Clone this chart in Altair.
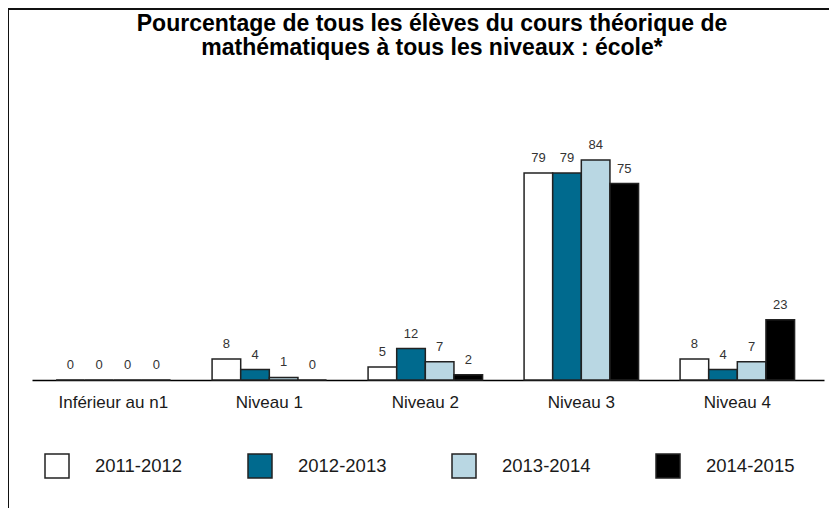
import altair as alt
import pandas as pd

categories = ["Inférieur au n1", "Niveau 1", "Niveau 2", "Niveau 3", "Niveau 4"]
years = ["2011-2012", "2012-2013", "2013-2014", "2014-2015"]
v_2011 = [0, 8, 5, 79, 8]
v_2012 = [0, 4, 12, 79, 4]
v_2013 = [0, 1, 7, 84, 7]
v_2014 = [0, 0, 2, 75, 23]
colors = ["#FFFFFF", "#006A8E", "#B9D7E3", "#000000"]

rows = []
for yr, vals in zip(years, [v_2011, v_2012, v_2013, v_2014]):
    for c, v in zip(categories, vals):
        rows.append({"cat": c, "year": yr, "value": v})
df = pd.DataFrame(rows)

FONT = "Liberation Sans"

x_enc = alt.X("cat:N", sort=categories, title=None,
              scale=alt.Scale(paddingInner=0.266, paddingOuter=0.1715, align=0.45),
              axis=alt.Axis(labelAngle=0, labelFontSize=17, labelFont=FONT, labelColor="#1a1a1a",
                            ticks=False, domainColor="#000000", domainWidth=1.5,
                            labelPadding=14, grid=False))
xo_enc = alt.XOffset("year:N", sort=years, scale=alt.Scale(paddingInner=0, paddingOuter=0))
y_enc = alt.Y("value:Q", scale=alt.Scale(domain=[0, 100]), axis=None)

base = alt.Chart(df)

bars = base.mark_bar(stroke="#222222", strokeWidth=1.5).encode(
    x=x_enc,
    xOffset=xo_enc,
    y=y_enc,
    fill=alt.Fill("year:N", sort=years,
                  scale=alt.Scale(domain=years, range=colors),
                  legend=alt.Legend(title=None, orient="none", legendX=12, legendY=335,
                                    direction="horizontal", columns=4,
                                    symbolType="square", symbolSize=576,
                                    symbolStrokeColor="#222222", symbolStrokeWidth=1.5,
                                    symbolOpacity=1,
                                    labelFontSize=18.5, labelFont=FONT, labelColor="#1a1a1a",
                                    labelOffset=25, columnPadding=62, padding=0)),
)

labels = base.mark_text(baseline="alphabetic", dy=-11, fontSize=13, font=FONT, color="#333333").encode(
    x=alt.X("cat:N", sort=categories),
    xOffset=alt.XOffset("year:N", sort=years),
    y=alt.Y("value:Q"),
    text=alt.Text("value:Q"),
)

frame = alt.Chart(pd.DataFrame({"a": [0]})).mark_rect(
    filled=False, stroke="#111111", strokeWidth=2
).encode(
    x=alt.value(-24), x2=alt.value(900), y=alt.value(-109), y2=alt.value(600)
)

chart = alt.layer(frame, bars, labels).properties(
    width=792,
    height=262,
    padding={"left": 24, "top": 110, "right": 5, "bottom": 128},
    autosize=alt.AutoSizeParams(type="none"),
    background="white",
    title=alt.Title(
        ["Pourcentage de tous les élèves du cours théorique de",
         "mathématiques à tous les niveaux : école*"],
        fontSize=23, font=FONT, fontWeight="bold", color="#000000",
        anchor="middle", frame="group", offset=-52, lineHeight=24, dx=4,
    ),
).configure_view(stroke="transparent", strokeWidth=0)

chart.save("out.html", embed_options={"renderer": "svg", "actions": False})
